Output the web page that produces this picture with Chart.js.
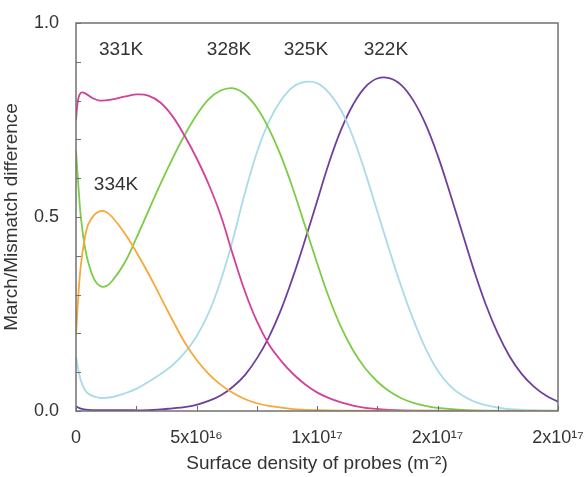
<!DOCTYPE html>
<html>
<head>
<meta charset="utf-8">
<script src="https://cdn.jsdelivr.net/npm/chart.js@4.4.1/dist/chart.umd.min.js"></script>
<style>
  html, body { margin: 0; padding: 0; background: #fff; }
  #wrap { width: 585px; height: 477px; }
</style>
</head>
<body>
<div id="wrap"><canvas id="chart" width="585" height="477"></canvas></div>
<script>
// x values are in units of 1e16 m^-2
const x334 = [0, 0.1, 0.2, 0.35, 0.5, 0.75, 1.0, 1.25, 1.5, 2.0, 2.5, 3.0, 3.5, 4.0, 4.5, 5.0, 5.5, 6.0, 6.5, 7.0, 7.5, 8.0, 9, 10, 11, 20];
const y334 = [0.196, 0.3, 0.375, 0.44, 0.48, 0.505, 0.515, 0.513, 0.5, 0.46, 0.41, 0.355, 0.295, 0.235, 0.178, 0.132, 0.096, 0.068, 0.047, 0.031, 0.02, 0.013, 0.005, 0.002, 0.001, 0];

const x331 = [0, 0.08, 0.2, 0.4, 0.7, 1.0, 1.5, 2.0, 2.5, 3.0, 3.5, 4.0, 4.5, 5.0, 5.5, 6.0, 6.5, 7.0, 7.5, 8.0, 8.5, 9.0, 9.5, 10, 10.5, 11, 11.5, 12, 13, 14, 20];
const y331 = [0.75, 0.8, 0.82, 0.818, 0.806, 0.8, 0.803, 0.81, 0.816, 0.813, 0.795, 0.76, 0.71, 0.652, 0.585, 0.505, 0.405, 0.31, 0.232, 0.172, 0.13, 0.096, 0.069, 0.048, 0.033, 0.022, 0.014, 0.008, 0.003, 0.001, 0];

const x328 = [0, 0.1, 0.2, 0.35, 0.5, 0.75, 1.0, 1.25, 1.5, 2.0, 2.5, 3.0, 3.5, 4.0, 4.5, 5.0, 5.5, 6.0, 6.5, 7.0, 7.5, 8.0, 8.5, 9.0, 9.5, 10.0, 10.5, 11.0, 11.5, 12.0, 12.5, 13.0, 13.5, 14, 14.5, 15, 16, 17, 20];
const y328 = [0.67, 0.58, 0.5, 0.43, 0.385, 0.34, 0.322, 0.322, 0.335, 0.38, 0.445, 0.515, 0.585, 0.65, 0.71, 0.762, 0.803, 0.826, 0.832, 0.817, 0.782, 0.728, 0.658, 0.573, 0.478, 0.382, 0.292, 0.216, 0.156, 0.11, 0.076, 0.051, 0.033, 0.021, 0.013, 0.008, 0.003, 0.001, 0];

const x325 = [0, 0.1, 0.25, 0.5, 1.0, 1.5, 2.0, 2.5, 3.0, 3.5, 4.0, 4.5, 5.0, 5.5, 6.0, 6.5, 7.0, 7.5, 8.0, 8.5, 9.0, 9.5, 10.0, 10.5, 11.0, 11.5, 12.0, 12.5, 13.0, 13.5, 14.0, 14.5, 15.0, 15.5, 16.0, 16.5, 17.0, 17.5, 18, 19, 20];
const y325 = [0.14, 0.105, 0.07, 0.045, 0.034, 0.036, 0.045, 0.057, 0.075, 0.095, 0.118, 0.15, 0.192, 0.252, 0.335, 0.44, 0.56, 0.665, 0.745, 0.8, 0.835, 0.848, 0.845, 0.82, 0.775, 0.705, 0.615, 0.515, 0.415, 0.32, 0.235, 0.162, 0.105, 0.066, 0.041, 0.025, 0.015, 0.009, 0.005, 0.002, 0.001];

const x322 = [0, 0.2, 0.5, 1, 2, 3, 3.5, 4, 4.5, 5, 5.5, 6, 6.5, 7, 7.5, 8, 8.5, 9, 9.5, 10, 10.5, 11, 11.5, 12, 12.5, 13, 13.5, 14, 14.5, 15, 15.5, 16, 16.5, 17, 17.5, 18, 18.5, 19, 19.5, 20];
const y322 = [0.012, 0.006, 0.003, 0.002, 0.002, 0.002, 0.004, 0.007, 0.01, 0.016, 0.026, 0.04, 0.062, 0.092, 0.135, 0.19, 0.26, 0.345, 0.44, 0.54, 0.64, 0.725, 0.79, 0.835, 0.857, 0.858, 0.84, 0.8, 0.74, 0.66, 0.565, 0.465, 0.365, 0.275, 0.2, 0.14, 0.095, 0.063, 0.04, 0.024];

const xTickValues = [0, 5, 10, 15, 20];
const xTickLabels = ['0', '5x10\u00B9\u2076', '1x10\u00B9\u2077', '2x10\u00B9\u2077', '2x10\u00B9\u2077'];
const yTickValues = [0, 0.5, 1];
const yTickLabels = ['0.0', '0.5', '1.0'];

// curve name labels: [text, x, y] in data units
const seriesLabels = [
    ['331K', 1.87, 0.93],
    ['328K', 6.35, 0.93],
    ['325K', 9.54, 0.93],
    ['322K', 12.86, 0.93],
    ['334K', 1.66, 0.582]
];

const FONT = '"Liberation Sans", Arial, sans-serif';
const TEXT = '#333';

function pts(xs, ys) {
    return xs.map((x, i) => ({ x: x, y: ys[i] }));
}

function line(data, color) {
    return {
        data: data,
        borderColor: color,
        borderWidth: 1.8,
        pointRadius: 0,
        fill: false,
        tension: 0.4
    };
}

// box around the plot, inward tick marks and curve labels
const framePlugin = {
    id: 'frame',
    afterDatasetsDraw(chart) {
        const { ctx, chartArea: a, scales } = chart;
        ctx.save();
        ctx.strokeStyle = '#707070';
        ctx.lineWidth = 1;
        scales.x.ticks.forEach(t => {
            const px = Math.round(scales.x.getPixelForValue(t.value)) + 0.5;
            ctx.beginPath();
            ctx.moveTo(px, a.bottom);
            ctx.lineTo(px, a.bottom - 5);
            ctx.stroke();
        });
        scales.y.ticks.forEach(t => {
            const py = Math.round(scales.y.getPixelForValue(t.value)) + 0.5;
            ctx.beginPath();
            ctx.moveTo(a.left, py);
            ctx.lineTo(a.left + 5, py);
            ctx.stroke();
        });
        ctx.lineWidth = 1.5;
        ctx.strokeRect(a.left, a.top, a.right - a.left, a.bottom - a.top);

        ctx.fillStyle = TEXT;
        ctx.font = '19px ' + FONT;
        ctx.textAlign = 'center';
        ctx.textBaseline = 'middle';
        seriesLabels.forEach(([txt, x, y]) => {
            ctx.fillText(txt, scales.x.getPixelForValue(x), scales.y.getPixelForValue(y));
        });
        ctx.restore();
    }
};

new Chart(document.getElementById('chart'), {
    type: 'line',
    data: {
        datasets: [
            line(pts(x334, y334), '#f5a93a'),
            line(pts(x331, y331), '#d2409a'),
            line(pts(x328, y328), '#7ccc46'),
            line(pts(x325, y325), '#a9dce6'),
            line(pts(x322, y322), '#6f3f9e')
        ]
    },
    options: {
        responsive: false,
        animation: false,
        layout: { padding: { top: 23, right: 27, left: 0, bottom: 0 } },
        plugins: {
            legend: { display: false },
            tooltip: { enabled: false }
        },
        scales: {
            x: {
                type: 'linear',
                min: 0,
                max: 20,
                grid: { display: false },
                border: { display: false },
                ticks: {
                    stepSize: 2.5,
                    autoSkip: false,
                    maxRotation: 0,
                    padding: 8,
                    color: TEXT,
                    font: { family: FONT, size: 18 },
                    callback: v => {
                        const i = xTickValues.indexOf(v);
                        return i >= 0 ? xTickLabels[i] : '';
                    }
                },
                title: {
                    display: true,
                    text: 'Surface density of probes (m\u207B\u00B2)',
                    color: TEXT,
                    font: { family: FONT, size: 19 },
                    padding: { top: 0, bottom: 2 }
                },
                afterFit: s => { s.height = 66; s.paddingLeft = 0; s.paddingRight = 0; }
            },
            y: {
                min: 0,
                max: 1,
                grid: { display: false },
                border: { display: false },
                ticks: {
                    stepSize: 0.1,
                    autoSkip: false,
                    padding: 9,
                    color: TEXT,
                    font: { family: FONT, size: 18 },
                    callback: v => {
                        const i = yTickValues.findIndex(t => Math.abs(t - v) < 1e-6);
                        return i >= 0 ? yTickLabels[i] : '';
                    }
                },
                title: {
                    display: true,
                    text: 'March/Mismatch difference',
                    color: TEXT,
                    font: { family: FONT, size: 19 },
                    padding: { top: 0, bottom: 0 }
                },
                afterFit: s => { s.width = 76; s.paddingTop = 0; s.paddingBottom = 0; }
            }
        }
    },
    plugins: [framePlugin]
});
</script>
</body>
</html>
